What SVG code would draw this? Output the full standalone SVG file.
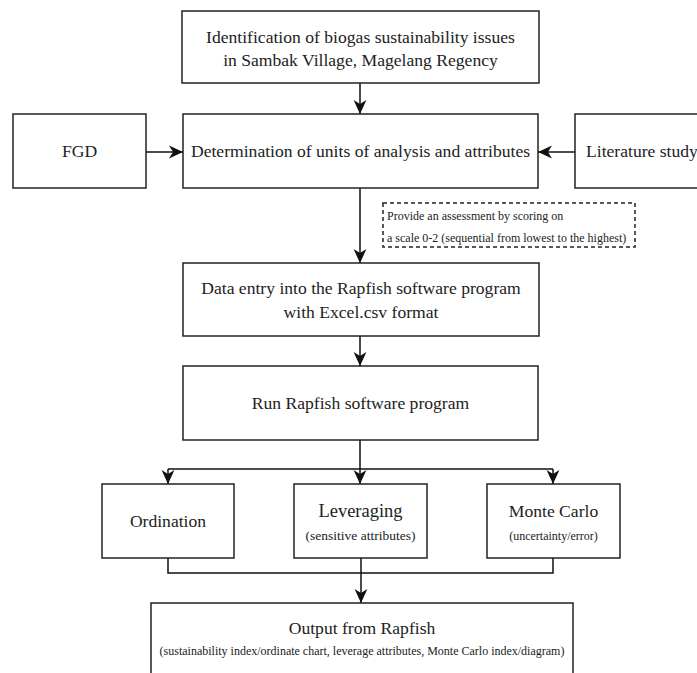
<svg xmlns="http://www.w3.org/2000/svg" width="697" height="673" viewBox="0 0 697 673">
<style>
.box{fill:#fff;stroke:#222;stroke-width:1.5}
.dash{fill:none;stroke:#222;stroke-width:1.5;stroke-dasharray:4,3}
text{font-family:'Liberation Serif','DejaVu Serif',serif;fill:#222}
.t{font-size:17.6px;text-anchor:middle}
.s{font-size:12px;text-anchor:middle}
.sl{font-size:12px}
.c{fill:none;stroke:#111;stroke-width:1.5}
.a{marker-end:url(#arr)}
</style>
<defs>
<marker id="arr" markerUnits="userSpaceOnUse" markerWidth="14" markerHeight="14" viewBox="0 0 12 12" refX="12" refY="6" orient="auto">
<path d="M0,0.5 L12,6 L0,11.5 L3.5,6 z" fill="#111"/>
</marker>
</defs>
<rect width="697" height="673" fill="#fff"/>
<g id="connectors">
<path class="c a" d="M360,83 L360,114"/>
<path class="c a" d="M146,152 L183,152"/>
<path class="c a" d="M575,152 L538,152"/>
<path class="c a" d="M360,188 L360,263"/>
<path class="c a" d="M360,336 L360,366"/>
<path class="c" d="M360,440 L360,469"/>
<path class="c" d="M168,469 L553,469"/>
<path class="c a" d="M168,469 L168,484"/>
<path class="c a" d="M360,469 L360,484"/>
<path class="c a" d="M553,469 L553,484"/>
<path class="c" d="M168,558 L168,573 L553,573 L553,558"/>
<path class="c a" d="M361,558 L361,603"/>
</g>
<g id="n-identification">
<rect class="box" x="182" y="11" width="357" height="72"/>
<text class="t" x="360.5" y="43">Identification of biogas sustainability issues</text>
<text class="t" x="360.5" y="66">in Sambak Village, Magelang Regency</text>
</g>
<g id="n-fgd">
<rect class="box" x="13" y="114" width="133" height="74"/>
<text class="t" x="79.5" y="157">FGD</text>
</g>
<g id="n-determination">
<rect class="box" x="183" y="114" width="355" height="74"/>
<text class="t" x="360.5" y="157">Determination of units of analysis and attributes</text>
</g>
<g id="n-literature">
<rect class="box" x="575" y="114" width="140" height="74"/>
<text class="t" x="586" y="157" style="text-anchor:start">Literature study</text>
</g>
<g id="n-note">
<rect class="dash" x="383" y="203" width="252" height="44"/>
<text class="sl" x="387" y="220">Provide an assessment by scoring on</text>
<text class="sl" x="387" y="242">a scale 0-2 (sequential from lowest to the highest)</text>
</g>
<g id="n-dataentry">
<rect class="box" x="183" y="263" width="356" height="73"/>
<text class="t" x="361" y="294">Data entry into the Rapfish software program</text>
<text class="t" x="361" y="318">with Excel.csv format</text>
</g>
<g id="n-run">
<rect class="box" x="183" y="366" width="355" height="74"/>
<text class="t" x="360.5" y="409">Run Rapfish software program</text>
</g>
<g id="n-ordination">
<rect class="box" x="102" y="484" width="132" height="74"/>
<text class="t" x="168" y="527">Ordination</text>
</g>
<g id="n-leveraging">
<rect class="box" x="294" y="484" width="133" height="74"/>
<text class="t" x="360.5" y="517" style="font-size:18.5px">Leveraging</text>
<text class="s" x="360.5" y="540" style="font-size:13.5px">(sensitive attributes)</text>
</g>
<g id="n-montecarlo">
<rect class="box" x="487" y="484" width="133" height="74"/>
<text class="t" x="553.5" y="517">Monte Carlo</text>
<text class="s" x="553.5" y="540">(uncertainty/error)</text>
</g>
<g id="n-output">
<rect class="box" x="151" y="603" width="422" height="80"/>
<text class="t" x="362" y="634">Output from Rapfish</text>
<text class="s" x="362" y="655">(sustainability index/ordinate chart, leverage attributes, Monte Carlo index/diagram)</text>
</g>
</svg>
